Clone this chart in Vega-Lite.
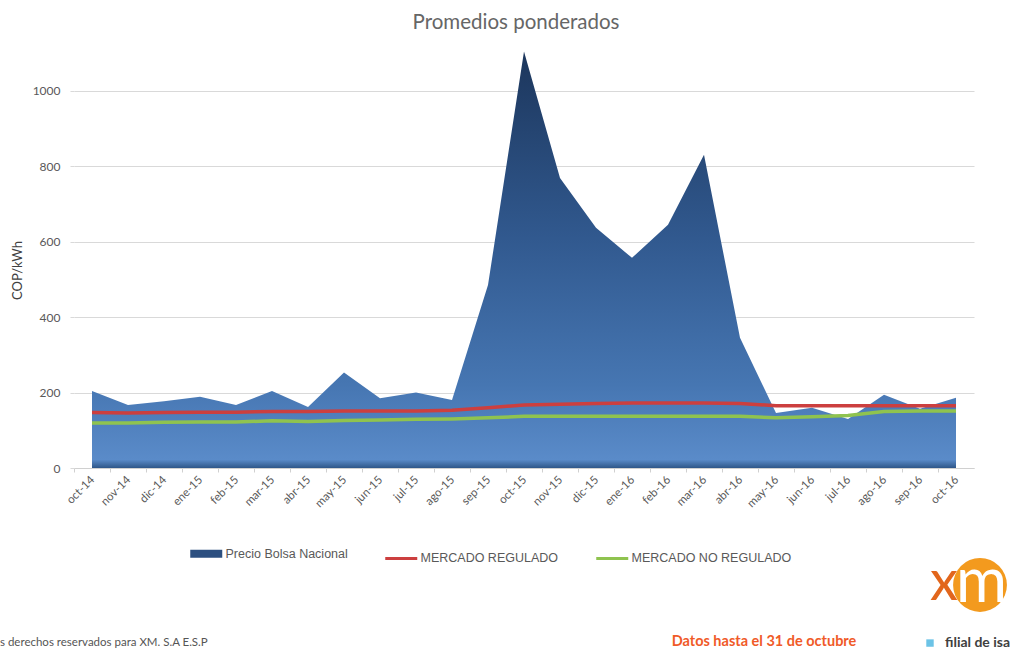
{
  "$schema": "https://vega.github.io/schema/vega-lite/v6.json",
  "autosize": {"type": "none"},
  "width": 900,
  "height": 415,
  "padding": {"left": 74, "top": 53, "right": 41, "bottom": 181},
  "background": "white",
  "title": {"text": "Promedios ponderados", "fontSize": 20.5, "font": "Lato", "fontWeight": "normal", "color": "#666666", "anchor": "middle", "dx": -8, "offset": 18},
  "config": {"view": {"stroke": null}},
  "datasets": {
    "precio": [
      {"mes": "oct-14", "valor": 204}, {"mes": "nov-14", "valor": 167}, {"mes": "dic-14", "valor": 177},
      {"mes": "ene-15", "valor": 189}, {"mes": "feb-15", "valor": 167}, {"mes": "mar-15", "valor": 204},
      {"mes": "abr-15", "valor": 162}, {"mes": "may-15", "valor": 253}, {"mes": "jun-15", "valor": 185},
      {"mes": "jul-15", "valor": 200}, {"mes": "ago-15", "valor": 180}, {"mes": "sep-15", "valor": 485},
      {"mes": "oct-15", "valor": 1104}, {"mes": "nov-15", "valor": 769}, {"mes": "dic-15", "valor": 637},
      {"mes": "ene-16", "valor": 557}, {"mes": "feb-16", "valor": 645}, {"mes": "mar-16", "valor": 830},
      {"mes": "abr-16", "valor": 345}, {"mes": "may-16", "valor": 146}, {"mes": "jun-16", "valor": 160},
      {"mes": "jul-16", "valor": 130}, {"mes": "ago-16", "valor": 194}, {"mes": "sep-16", "valor": 157},
      {"mes": "oct-16", "valor": 186}
    ],
    "mercados": [
      {"mes": "oct-14", "serie": "MERCADO REGULADO", "valor": 147}, {"mes": "nov-14", "serie": "MERCADO REGULADO", "valor": 146},
      {"mes": "dic-14", "serie": "MERCADO REGULADO", "valor": 147}, {"mes": "ene-15", "serie": "MERCADO REGULADO", "valor": 148},
      {"mes": "feb-15", "serie": "MERCADO REGULADO", "valor": 148}, {"mes": "mar-15", "serie": "MERCADO REGULADO", "valor": 150},
      {"mes": "abr-15", "serie": "MERCADO REGULADO", "valor": 150}, {"mes": "may-15", "serie": "MERCADO REGULADO", "valor": 151},
      {"mes": "jun-15", "serie": "MERCADO REGULADO", "valor": 151}, {"mes": "jul-15", "serie": "MERCADO REGULADO", "valor": 151},
      {"mes": "ago-15", "serie": "MERCADO REGULADO", "valor": 153}, {"mes": "sep-15", "serie": "MERCADO REGULADO", "valor": 160},
      {"mes": "oct-15", "serie": "MERCADO REGULADO", "valor": 167}, {"mes": "nov-15", "serie": "MERCADO REGULADO", "valor": 169},
      {"mes": "dic-15", "serie": "MERCADO REGULADO", "valor": 171}, {"mes": "ene-16", "serie": "MERCADO REGULADO", "valor": 172},
      {"mes": "feb-16", "serie": "MERCADO REGULADO", "valor": 172}, {"mes": "mar-16", "serie": "MERCADO REGULADO", "valor": 172},
      {"mes": "abr-16", "serie": "MERCADO REGULADO", "valor": 171}, {"mes": "may-16", "serie": "MERCADO REGULADO", "valor": 165},
      {"mes": "jun-16", "serie": "MERCADO REGULADO", "valor": 165}, {"mes": "jul-16", "serie": "MERCADO REGULADO", "valor": 165},
      {"mes": "ago-16", "serie": "MERCADO REGULADO", "valor": 165}, {"mes": "sep-16", "serie": "MERCADO REGULADO", "valor": 165},
      {"mes": "oct-16", "serie": "MERCADO REGULADO", "valor": 165},
      {"mes": "oct-14", "serie": "MERCADO NO REGULADO", "valor": 119}, {"mes": "nov-14", "serie": "MERCADO NO REGULADO", "valor": 119},
      {"mes": "dic-14", "serie": "MERCADO NO REGULADO", "valor": 121}, {"mes": "ene-15", "serie": "MERCADO NO REGULADO", "valor": 122},
      {"mes": "feb-15", "serie": "MERCADO NO REGULADO", "valor": 122}, {"mes": "mar-15", "serie": "MERCADO NO REGULADO", "valor": 125},
      {"mes": "abr-15", "serie": "MERCADO NO REGULADO", "valor": 123}, {"mes": "may-15", "serie": "MERCADO NO REGULADO", "valor": 126},
      {"mes": "jun-15", "serie": "MERCADO NO REGULADO", "valor": 127}, {"mes": "jul-15", "serie": "MERCADO NO REGULADO", "valor": 129},
      {"mes": "ago-15", "serie": "MERCADO NO REGULADO", "valor": 130}, {"mes": "sep-15", "serie": "MERCADO NO REGULADO", "valor": 133},
      {"mes": "oct-15", "serie": "MERCADO NO REGULADO", "valor": 137}, {"mes": "nov-15", "serie": "MERCADO NO REGULADO", "valor": 137},
      {"mes": "dic-15", "serie": "MERCADO NO REGULADO", "valor": 137}, {"mes": "ene-16", "serie": "MERCADO NO REGULADO", "valor": 137},
      {"mes": "feb-16", "serie": "MERCADO NO REGULADO", "valor": 137}, {"mes": "mar-16", "serie": "MERCADO NO REGULADO", "valor": 137},
      {"mes": "abr-16", "serie": "MERCADO NO REGULADO", "valor": 137}, {"mes": "may-16", "serie": "MERCADO NO REGULADO", "valor": 133},
      {"mes": "jun-16", "serie": "MERCADO NO REGULADO", "valor": 136}, {"mes": "jul-16", "serie": "MERCADO NO REGULADO", "valor": 139},
      {"mes": "ago-16", "serie": "MERCADO NO REGULADO", "valor": 150}, {"mes": "sep-16", "serie": "MERCADO NO REGULADO", "valor": 151},
      {"mes": "oct-16", "serie": "MERCADO NO REGULADO", "valor": 151}
    ],
    "notas": [
      {"texto": "s derechos reservados para XM. S.A E.S.P", "mes": "oct-14", "valor": -464},
      {"texto": "Datos hasta el 31 de octubre", "mes": "may-16", "valor": -462}
    ]
  },
  "layer": [
    {
      "data": {"name": "precio"},
      "mark": {
        "type": "area",
        "fill": {"x1": 0, "y1": 0, "x2": 0, "y2": 1, "gradient": "linear",
          "stops": [
            {"offset": 0, "color": "#1c365c"},
            {"offset": 0.45, "color": "#31598f"},
            {"offset": 0.8, "color": "#4676b2"},
            {"offset": 0.98, "color": "#5a8bc9"},
            {"offset": 1, "color": "#2e5688"}
          ]}
      },
      "encoding": {
        "x": {
          "field": "mes", "type": "nominal", "bandPosition": 0.5,
          "scale": {"type": "band", "paddingInner": 0, "paddingOuter": 0,
            "domain": ["oct-14","nov-14","dic-14","ene-15","feb-15","mar-15","abr-15","may-15","jun-15","jul-15","ago-15","sep-15","oct-15","nov-15","dic-15","ene-16","feb-16","mar-16","abr-16","may-16","jun-16","jul-16","ago-16","sep-16","oct-16"]},
          "axis": {
            "title": null, "bandPosition": 0, "labelAngle": -45, "labelAlign": "right", "labelBaseline": "middle",
            "labelOffset": 1, "labelPadding": 6, "labelFont": "Lato", "labelFontSize": 11.5, "labelColor": "#595959",
            "tickSize": 4, "tickColor": "#d0d0d0", "domainColor": "#d0d0d0", "grid": false
          }
        },
        "y": {
          "field": "valor", "type": "quantitative",
          "scale": {"domain": [0, 1100], "nice": false},
          "axis": {
            "title": "COP/kWh", "titleFont": "Lato", "titleFontSize": 13, "titleFontWeight": "normal", "titleColor": "#404040", "titlePadding": 8, "titleY": 217,
            "values": [0, 200, 400, 600, 800, 1000], "format": "d", "labelFont": "Lato", "labelFontSize": 12, "labelColor": "#595959",
            "labelPadding": 10, "tickSize": 4, "tickColor": "#d9d9d9", "domain": false,
            "grid": true, "gridColor": "#d9d9d9"
          }
        }
      }
    },
    {
      "data": {"name": "mercados"},
      "mark": {"type": "line", "strokeWidth": 3.5},
      "encoding": {
        "x": {"field": "mes", "type": "nominal", "bandPosition": 0.5},
        "y": {"field": "valor", "type": "quantitative"},
        "color": {
          "field": "serie", "type": "nominal",
          "scale": {"domain": ["Precio Bolsa Nacional", "MERCADO REGULADO", "MERCADO NO REGULADO"], "range": ["#2c4f80", "#cc3f3f", "#8fc34f"]},
          "legend": {
            "title": null, "orient": "none", "direction": "horizontal", "legendX": 126, "legendY": 494,
            "symbolType": "stroke", "symbolSize": 1024, "symbolStrokeWidth": 3,
            "labelFont": "Liberation Sans", "labelFontSize": 12.5, "labelColor": "#595959", "labelOffset": 13, "columnPadding": 31,
            "encode": {"symbols": {"update": {"strokeWidth": {"signal": "datum.label === 'Precio Bolsa Nacional' ? 8 : 3"}}}}
          }
        }
      }
    },
    {
      "data": {"name": "notas"},
      "transform": [{"filter": "datum.mes === 'oct-14'"}],
      "mark": {"type": "text", "align": "left", "baseline": "middle", "dx": -92, "font": "Lato", "fontSize": 11.5, "color": "#555555"},
      "encoding": {
        "x": {"field": "mes", "type": "nominal"},
        "y": {"field": "valor", "type": "quantitative"},
        "text": {"field": "texto"}
      }
    },
    {
      "data": {"name": "notas"},
      "transform": [{"filter": "datum.mes === 'may-16'"}],
      "mark": {"type": "text", "align": "center", "baseline": "middle", "dx": -12, "font": "Lato", "fontSize": 14.5, "fontWeight": "bold", "color": "#f05a28"},
      "encoding": {
        "x": {"field": "mes", "type": "nominal"},
        "y": {"field": "valor", "type": "quantitative"},
        "text": {"field": "texto"}
      }
    },
    {
      "data": {"values": [{"mes": "oct-16", "valor": -310}]},
      "mark": {"type": "point", "shape": "circle", "filled": true, "size": 2900, "color": "#f39a1e", "opacity": 1},
      "encoding": {
        "x": {"field": "mes", "type": "nominal"},
        "xOffset": {"value": 42},
        "y": {"field": "valor", "type": "quantitative"}
      }
    },
    {
      "data": {"values": [{"mes": "oct-16", "valor": -306, "texto": "x"}]},
      "mark": {"type": "text", "align": "center", "baseline": "middle", "dx": -12, "font": "Lato", "fontSize": 56, "color": "#e2661c"},
      "encoding": {
        "x": {"field": "mes", "type": "nominal"},
        "y": {"field": "valor", "type": "quantitative"},
        "text": {"field": "texto"}
      }
    },
    {
      "data": {"values": [{"mes": "oct-16", "valor": -306, "texto": "m"}]},
      "mark": {"type": "text", "align": "left", "baseline": "middle", "dx": 0, "font": "Lato", "fontSize": 62, "color": "#ffffff"},
      "encoding": {
        "x": {"field": "mes", "type": "nominal"},
        "y": {"field": "valor", "type": "quantitative"},
        "text": {"field": "texto"}
      }
    },
    {
      "data": {"values": [{"mes": "oct-16", "valor": -464}]},
      "mark": {"type": "point", "shape": "square", "filled": true, "size": 55, "color": "#6cc3e6", "opacity": 1},
      "encoding": {
        "x": {"field": "mes", "type": "nominal"},
        "xOffset": {"value": -8},
        "y": {"field": "valor", "type": "quantitative"}
      }
    },
    {
      "data": {"values": [{"mes": "oct-16", "valor": -464, "texto": "filial de isa"}]},
      "mark": {"type": "text", "align": "left", "baseline": "middle", "dx": -11, "font": "Lato", "fontSize": 14, "fontWeight": "bold", "color": "#404040"},
      "encoding": {
        "x": {"field": "mes", "type": "nominal"},
        "y": {"field": "valor", "type": "quantitative"},
        "text": {"field": "texto"}
      }
    }
  ]
}
